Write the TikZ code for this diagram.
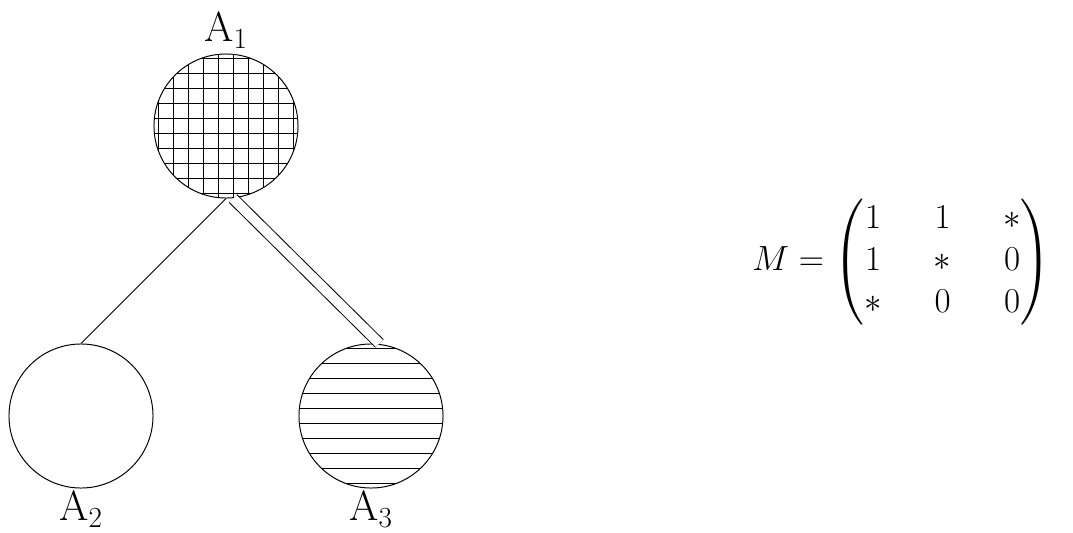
\documentclass[tikz,border=0pt]{standalone}
\usepackage{amsmath}

\begin{document}
\begin{tikzpicture}[
  x=0.025cm, y=-0.025cm,
  font=\fontsize{30}{30}\selectfont,
  line width=0.7pt,
  vertex/.style={draw, circle, inner sep=0pt, minimum size=3.6cm},
  hatchline/.style={line width=1pt},
  toplbl/.style={inner sep=0pt, label distance=0.12cm},
  botlbl/.style={inner sep=0pt, label distance=0.05cm},
]
\useasboundingbox (0,0) rectangle (1073,533);

%% Tree: A1 on top, A2 and A3 below
\node[vertex, label={[toplbl]above:{A$_1$}}] (a1) at (226,126) {};
\node[vertex, label={[botlbl]below:{A$_2$}}] (a2) at (81,416) {};
\node[vertex, label={[botlbl]below:{A$_3$}}] (a3) at (371,416) {};

%% Fillings: grid in A1, stripes in A3
\begin{scope}
  \clip (a1.center) circle (1.8cm);
  \foreach \k in {-5,...,4} {
    \draw[hatchline] (233.5+15*\k, 50) -- (233.5+15*\k, 202);
    \draw[hatchline] (150, 133.5+15*\k) -- (302, 133.5+15*\k);
  }
\end{scope}
\begin{scope}
  \clip (a3.center) circle (1.8cm);
  \foreach \k in {-5,...,4}
    \draw[hatchline] (295, 423.5+15*\k) -- (447, 423.5+15*\k);
\end{scope}

%% Edges
\draw (a1.south) -- (a2.north);
\draw[double, double distance=7pt] ([xshift=5pt]a1.south) -- ([xshift=6pt]a3.north);

%% Matrix
\node[font=\fontsize{36}{30}\selectfont] (matrix) at (902,262)
  {\setlength{\arraycolsep}{18.5pt}%
   $M=\begin{pmatrix}1 & 1 & *\\ 1 & * & 0\\ * & 0 & 0\end{pmatrix}$};

\end{tikzpicture}
\end{document}
